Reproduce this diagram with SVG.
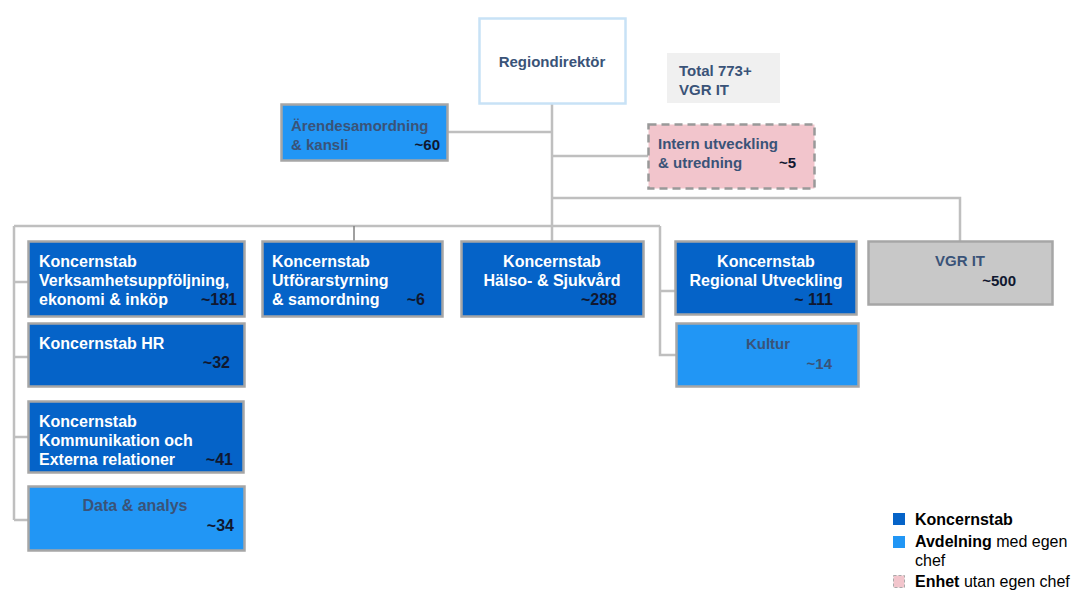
<svg xmlns="http://www.w3.org/2000/svg" width="1072" height="590" viewBox="0 0 1072 590">
<style>
text{font-family:"Liberation Sans",Arial,sans-serif;font-weight:bold;font-size:16px}
.w{fill:#ffffff}
.n{fill:#101830}
.g{fill:#3a5378}
.m{text-anchor:middle}
.e{text-anchor:end}
.ks{fill:#0563c8;stroke:#a6a6a6;stroke-width:2.5}
.av{fill:#2196f5;stroke:#a6a6a6;stroke-width:2.5}
.c{fill:none;stroke:#bfbfbf;stroke-width:2.5}
.lg{font-size:16px;fill:#000}
.lgn{font-weight:normal}
</style>
<rect width="1072" height="590" fill="#ffffff"/>
<g id="connectors">
<path class="c" d="M552 104 V198 M448 132 H552 M552 156 H648 M552 198 H960 V241"/>
<path class="c" d="M14 226 H660 M14 226 V520 M14 282 H28 M14 357 H28 M14 437 H28 M14 520 H28"/>
<path class="c" d="M552 198 V241 M660 226 V355 H676 M660 291 H675"/>
<path d="M354 226 V241" fill="none" stroke="#808080" stroke-width="1.5"/>
</g>
<g id="regiondirektor">
<rect x="479.5" y="18.5" width="146" height="85" fill="#fff" stroke="#c8e2f6" stroke-width="2.5"/>
<text x="552" y="67" class="m g" style="font-size:15px">Regiondirektör</text>
</g>
<g id="total">
<rect x="667" y="53" width="113" height="50" fill="#f0f0f0"/>
<text x="679" y="76" class="g" style="font-size:15px">Total 773+</text>
<text x="679" y="95" class="g" style="font-size:15px">VGR IT</text>
</g>
<g id="arendesamordning">
<rect x="281.5" y="104.5" width="166" height="56" class="av"/>
<text x="291" y="131" class="g" style="font-size:15px">Ärendesamordning</text>
<text x="291" y="150" class="g" style="font-size:15px">&amp; kansli</text>
<text x="440" y="150" class="e n" style="font-size:15px">~60</text>
</g>
<g id="intern">
<rect x="648.5" y="124.5" width="166" height="64" fill="#f2c5cc" stroke="#999" stroke-width="2.5" stroke-dasharray="8,5"/>
<text x="658" y="149" class="g" style="font-size:15px">Intern utveckling</text>
<text x="658" y="168" class="g" style="font-size:15px">&amp; utredning</text>
<text x="796" y="168" class="e n" style="font-size:15px">~5</text>
</g>
<g id="verksamhet">
<rect x="28.5" y="241.5" width="216" height="75" class="ks"/>
<text x="39" y="267" class="w">Koncernstab</text>
<text x="39" y="286" class="w">Verksamhetsuppföljning,</text>
<text x="39" y="305" class="w">ekonomi &amp; inköp</text>
<text x="237" y="305" class="e n">~181</text>
</g>
<g id="hr">
<rect x="28.5" y="323.5" width="216" height="63" class="ks"/>
<text x="39" y="349" class="w">Koncernstab HR</text>
<text x="230" y="368" class="e n">~32</text>
</g>
<g id="kommunikation">
<rect x="28.5" y="401.5" width="215" height="71" class="ks"/>
<text x="39" y="427" class="w">Koncernstab</text>
<text x="39" y="446" class="w">Kommunikation  och</text>
<text x="39" y="465" class="w">Externa relationer</text>
<text x="233" y="465" class="e n">~41</text>
</g>
<g id="data">
<rect x="28.5" y="486.5" width="216" height="64" class="av"/>
<text x="135" y="511" class="m g">Data &amp; analys</text>
<text x="234" y="531" class="e n">~34</text>
</g>
<g id="utforar">
<rect x="262.5" y="241.5" width="180" height="75" class="ks"/>
<text x="272" y="267" class="w">Koncernstab</text>
<text x="272" y="286" class="w">Utförarstyrning</text>
<text x="272" y="305" class="w">&amp; samordning</text>
<text x="425" y="305" class="e n">~6</text>
</g>
<g id="halso">
<rect x="461.5" y="241.5" width="182" height="75" class="ks"/>
<text x="552" y="267" class="m w">Koncernstab</text>
<text x="552" y="286" class="m w">Hälso- &amp; Sjukvård</text>
<text x="617" y="305" class="e n">~288</text>
</g>
<g id="regional">
<rect x="675.5" y="241.5" width="181" height="73" class="ks"/>
<text x="766" y="267" class="m w">Koncernstab</text>
<text x="766" y="286" class="m w">Regional  Utveckling</text>
<text x="833" y="305" class="e n">~ 111</text>
</g>
<g id="kultur">
<rect x="676.5" y="323.5" width="182" height="63" class="av"/>
<text x="768" y="349" class="m g" style="font-size:15px">Kultur</text>
<text x="832" y="369" class="e g" style="font-size:15px">~14</text>
</g>
<g id="vgrit">
<rect x="868.5" y="241.5" width="184" height="63" fill="#c8c8c8" stroke="#a6a6a6" stroke-width="2.5"/>
<text x="960" y="266" class="m g" style="font-size:15px">VGR IT</text>
<text x="1016" y="286" class="e n" style="font-size:15px">~500</text>
</g>
<g id="legend">
<rect x="893" y="513" width="12" height="12" fill="#0563c8"/>
<text x="915" y="525" class="lg">Koncernstab</text>
<rect x="893" y="536" width="12" height="12" fill="#2196f5"/>
<text x="915" y="547" class="lg">Avdelning <tspan class="lgn">med egen</tspan></text>
<text x="915" y="566" class="lg lgn">chef</text>
<rect x="893.5" y="575.5" width="11" height="12" fill="#f2c5cc" stroke="#aaa" stroke-width="1" stroke-dasharray="3,2"/>
<text x="915" y="587" class="lg">Enhet <tspan class="lgn">utan egen chef</tspan></text>
</g>
</svg>
